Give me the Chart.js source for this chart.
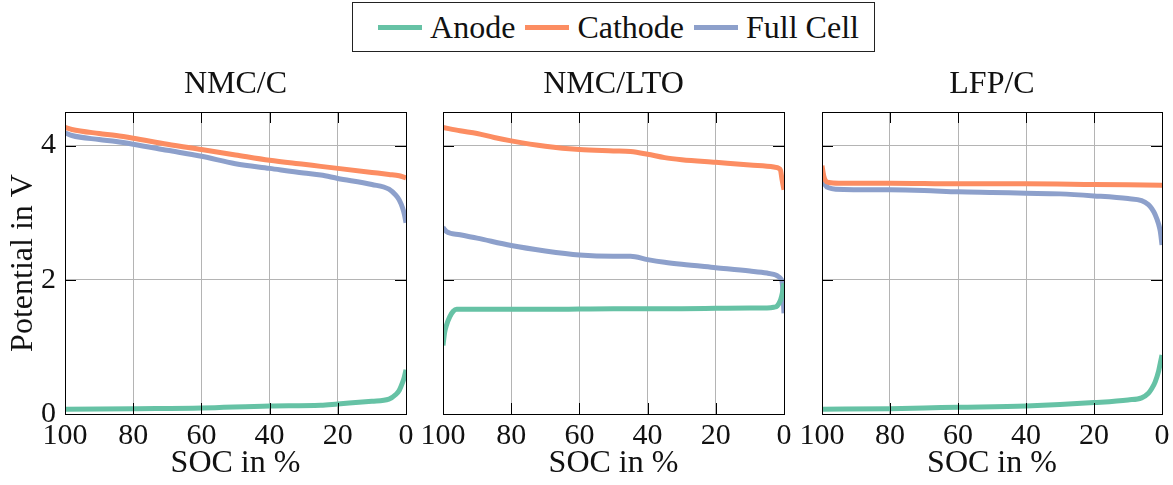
<!DOCTYPE html>
<html>
<head>
<meta charset="utf-8">
<script src="https://cdn.jsdelivr.net/npm/chart.js@4.4.1/dist/chart.umd.min.js"></script>
<style>
  body { margin: 0; background: #fff; width: 1173px; height: 485px; position: relative; overflow: hidden; }
  canvas { position: absolute; top: 0; }
  #legend {
    position: absolute; left: 352px; top: 2px; width: 521px; height: 48px;
    border: 1px solid #222; box-sizing: content-box;
    display: flex; align-items: center; justify-content: center;
    font-family: "Liberation Serif", serif; font-size: 32px; color: #111;
  }
  #legend .sw { display: inline-block; width: 44px; height: 5px; margin: 0 8px 0 10px; }
</style>
</head>
<body>
<div id="legend">
  <span class="sw" style="background:#66c2a5"></span><span>Anode</span>
  <span class="sw" style="background:#fc8d62"></span><span>Cathode</span>
  <span class="sw" style="background:#8da0cb"></span><span>Full Cell</span>
</div>
<canvas id="c1" style="left:0px" width="420" height="485"></canvas>
<canvas id="c2" style="left:420px" width="380" height="485"></canvas>
<canvas id="c3" style="left:800px" width="373" height="485"></canvas>
<script>
// ---------------- DATA (SOC in %, potential in V) ----------------
const xTicks = [0, 20, 40, 60, 80, 100];
const yTicks = [0, 2, 4];

// NMC/C
const nmcC_socAnode = [100, 80, 60, 40, 25, 20, 10, 5, 3, 2, 1, 0.5, 0];
const nmcC_anode    = [0.07, 0.08, 0.09, 0.12, 0.13, 0.15, 0.19, 0.22, 0.29, 0.35, 0.47, 0.55, 0.66];
const nmcC_socCath  = [100, 98, 90, 85, 80, 70, 60, 50, 40, 30, 25, 20, 10, 5, 2, 0];
const nmcC_cathode  = [4.27, 4.24, 4.18, 4.15, 4.11, 4.02, 3.94, 3.86, 3.78, 3.72, 3.69, 3.66, 3.60, 3.57, 3.55, 3.52];
const nmcC_socFull  = [100, 98, 90, 85, 80, 70, 60, 50, 40, 30, 25, 20, 10, 5, 3, 2, 1, 0.5, 0];
const nmcC_full     = [4.19, 4.15, 4.09, 4.06, 4.02, 3.93, 3.84, 3.73, 3.66, 3.59, 3.56, 3.51, 3.42, 3.35, 3.26, 3.19, 3.07, 2.98, 2.85];

// NMC/LTO
const nmcLto_socAnode = [100, 99.5, 99, 98, 97, 96, 90, 70, 50, 30, 10, 5, 3, 2, 1, 0.5, 0];
const nmcLto_anode    = [1.02, 1.22, 1.32, 1.45, 1.53, 1.56, 1.56, 1.56, 1.57, 1.57, 1.58, 1.58, 1.59, 1.61, 1.70, 1.80, 1.95];
const nmcLto_socCath  = [100, 95, 90, 85, 80, 70, 60, 50, 45, 40, 35, 30, 20, 10, 3, 1.5, 1, 0.6, 0.3, 0];
const nmcLto_cathode  = [4.27, 4.22, 4.18, 4.12, 4.07, 3.99, 3.94, 3.92, 3.91, 3.87, 3.82, 3.79, 3.75, 3.71, 3.68, 3.66, 3.63, 3.50, 3.42, 3.34];
const nmcLto_socFull  = [100, 99, 95, 90, 80, 70, 60, 50, 45, 40, 35, 30, 20, 10, 5, 3, 2, 1, 0.5, 0];
const nmcLto_full     = [2.78, 2.72, 2.67, 2.62, 2.51, 2.43, 2.37, 2.35, 2.35, 2.30, 2.26, 2.23, 2.18, 2.13, 2.10, 2.08, 2.06, 2.02, 1.95, 1.50];

// LFP/C
const lfpC_socAnode = [100, 80, 70, 60, 40, 30, 20, 10, 6, 4, 3, 2, 1, 0.5, 0];
const lfpC_anode    = [0.07, 0.08, 0.09, 0.10, 0.12, 0.14, 0.17, 0.21, 0.24, 0.31, 0.38, 0.48, 0.64, 0.76, 0.88];
const lfpC_socCath  = [100, 99.5, 99, 98, 95, 80, 60, 40, 20, 0];
const lfpC_cathode  = [3.70, 3.55, 3.48, 3.45, 3.44, 3.44, 3.43, 3.43, 3.42, 3.41];
const lfpC_socFull  = [100, 99.5, 99, 98, 96, 80, 70, 60, 50, 40, 30, 20, 10, 6, 4, 3, 2, 1, 0.5, 0];
const lfpC_full     = [3.64, 3.48, 3.41, 3.37, 3.35, 3.34, 3.33, 3.31, 3.30, 3.29, 3.28, 3.25, 3.21, 3.18, 3.12, 3.06, 2.97, 2.83, 2.72, 2.52];

const colors = { anode: '#66c2a5', cathode: '#fc8d62', full: '#8da0cb' };
const FONT = '"Liberation Serif", serif';

const pts = (xs, ys) => xs.map((x, i) => ({ x, y: ys[i] }));

// frame, inward ticks and panel title, all placed from the chart's own scales
const framePlugin = {
  id: 'frame',
  afterDraw(chart, args, opts) {
    const { ctx, chartArea: ca, scales } = chart;
    const L = 11;
    ctx.save();
    ctx.strokeStyle = '#000';
    ctx.lineWidth = 1;
    ctx.beginPath();
    xTicks.forEach(v => {
      const px = Math.round(scales.x.getPixelForValue(v)) + 0.5;
      ctx.moveTo(px, ca.bottom); ctx.lineTo(px, ca.bottom - L);
      ctx.moveTo(px, ca.top); ctx.lineTo(px, ca.top + L);
    });
    yTicks.forEach(v => {
      const py = Math.round(scales.y.getPixelForValue(v)) + 0.5;
      ctx.moveTo(ca.left, py); ctx.lineTo(ca.left + L, py);
      ctx.moveTo(ca.right, py); ctx.lineTo(ca.right - L, py);
    });
    ctx.stroke();
    ctx.strokeRect(Math.round(ca.left) + 0.5, Math.round(ca.top) + 0.5,
      Math.round(ca.right - ca.left), Math.round(ca.bottom - ca.top));
    // title
    ctx.fillStyle = '#111';
    ctx.font = '32px ' + FONT;
    ctx.textAlign = 'center';
    ctx.textBaseline = 'alphabetic';
    ctx.fillText(opts.text, (ca.left + ca.right) / 2, 93);
    ctx.restore();
  }
};

function makePanel(id, title, series, yLeftWidth, padRight) {
  const datasets = [
    { label: 'Anode', data: pts(series[0], series[1]), borderColor: colors.anode },
    { label: 'Cathode', data: pts(series[2], series[3]), borderColor: colors.cathode },
    { label: 'Full Cell', data: pts(series[4], series[5]), borderColor: colors.full }
  ].map(d => Object.assign(d, {
    borderWidth: 5, pointRadius: 0, fill: false,
    cubicInterpolationMode: 'monotone', borderCapStyle: 'butt', borderJoinStyle: 'round'
  }));

  const showY = yLeftWidth > 40;
  new Chart(document.getElementById(id), {
    type: 'line',
    data: { datasets },
    plugins: [framePlugin],
    options: {
      responsive: false,
      animation: false,
      events: [],
      layout: { padding: { top: 112, right: padRight, bottom: 0, left: 0 } },
      plugins: {
        legend: { display: false },
        tooltip: { enabled: false },
        frame: { text: title }
      },
      scales: {
        x: {
          type: 'linear', reverse: true, min: 0, max: 100,
          afterBuildTicks: s => { s.ticks = xTicks.map(v => ({ value: v })); },
          afterFit: s => { s.height = 71; },
          grid: { color: '#b4b4b4', lineWidth: 1, drawTicks: false },
          border: { display: false },
          ticks: { color: '#111', font: { family: FONT, size: 30 }, padding: 4, maxRotation: 0, autoSkip: false },
          title: { display: true, text: 'SOC in %', color: '#111', font: { family: FONT, size: 32 }, padding: { top: 0, bottom: 2 } }
        },
        y: {
          min: 0, max: 4.5,
          afterBuildTicks: s => { s.ticks = yTicks.map(v => ({ value: v })); },
          afterFit: s => { s.width = yLeftWidth; },
          grid: { color: '#b4b4b4', lineWidth: 1, drawTicks: false },
          border: { display: false },
          ticks: { display: showY, color: '#111', font: { family: FONT, size: 30 }, padding: 9 },
          title: { display: showY, text: 'Potential in V', color: '#111', font: { family: FONT, size: 32 }, padding: { top: 4, bottom: 0 } }
        }
      }
    }
  });
}

makePanel('c1', 'NMC/C',
  [nmcC_socAnode, nmcC_anode, nmcC_socCath, nmcC_cathode, nmcC_socFull, nmcC_full], 65, 14);
makePanel('c2', 'NMC/LTO',
  [nmcLto_socAnode, nmcLto_anode, nmcLto_socCath, nmcLto_cathode, nmcLto_socFull, nmcLto_full], 23, 16);
makePanel('c3', 'LFP/C',
  [lfpC_socAnode, lfpC_anode, lfpC_socCath, lfpC_cathode, lfpC_socFull, lfpC_full], 22, 11);
</script>
</body>
</html>
